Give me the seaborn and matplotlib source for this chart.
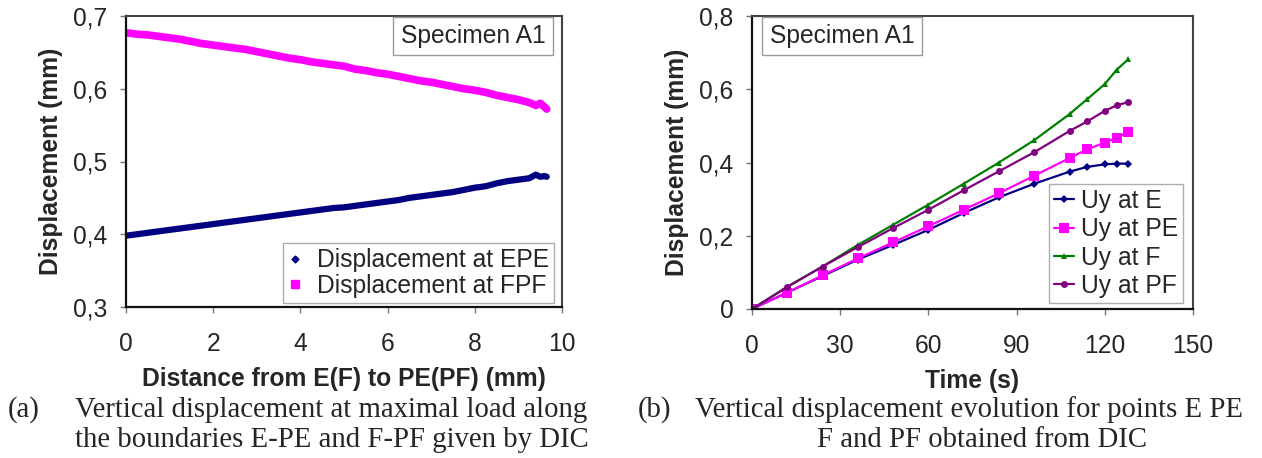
import matplotlib
matplotlib.use("Agg")
import matplotlib.pyplot as plt
import seaborn as sns
import pandas as pd
from matplotlib.lines import Line2D
from matplotlib.ticker import FuncFormatter

# ---------------- data: panel (a) ----------------
distance_mm = [0.0, 0.25, 0.5, 0.75, 1.0, 1.25, 1.5, 1.75, 2.0, 2.25, 2.5, 2.75,
               3.0, 3.25, 3.5, 3.75, 4.0, 4.25, 4.5, 4.75, 5.0, 5.25, 5.5, 5.75,
               6.0, 6.25, 6.5, 6.75, 7.0, 7.25, 7.5, 7.75, 8.0, 8.25, 8.5, 8.75,
               9.0, 9.25, 9.4, 9.5, 9.6, 9.65]
disp_EPE = [0.398, 0.400, 0.402, 0.404, 0.406, 0.408, 0.410, 0.412, 0.414, 0.416,
            0.418, 0.420, 0.422, 0.424, 0.426, 0.428, 0.430, 0.432, 0.434, 0.436,
            0.437, 0.439, 0.441, 0.443, 0.445, 0.447, 0.450, 0.452, 0.454, 0.456,
            0.458, 0.461, 0.464, 0.466, 0.470, 0.473, 0.475, 0.477, 0.482, 0.479,
            0.480, 0.479]
disp_FPF = [0.677, 0.675, 0.674, 0.672, 0.670, 0.668, 0.665, 0.662, 0.660, 0.658,
            0.656, 0.654, 0.651, 0.648, 0.645, 0.642, 0.640, 0.637, 0.635, 0.633,
            0.631, 0.627, 0.625, 0.622, 0.620, 0.617, 0.614, 0.611, 0.609, 0.606,
            0.603, 0.600, 0.598, 0.595, 0.591, 0.588, 0.585, 0.581, 0.577, 0.580,
            0.575, 0.572]

# ---------------- data: panel (b) ----------------
time_s = [0, 12, 24, 36, 48, 60, 72, 84, 96, 108, 114, 120, 124, 128]
uy_E = [0.0, 0.045, 0.090, 0.135, 0.175, 0.216, 0.262, 0.305, 0.342, 0.375,
        0.388, 0.395, 0.397, 0.397]
uy_PE = [0.0, 0.045, 0.092, 0.138, 0.182, 0.226, 0.271, 0.316, 0.364, 0.412,
         0.436, 0.454, 0.468, 0.483]
uy_F = [0.0, 0.061, 0.116, 0.175, 0.230, 0.285, 0.342, 0.400, 0.461, 0.532,
        0.573, 0.614, 0.653, 0.682]
uy_PF = [0.0, 0.060, 0.116, 0.169, 0.221, 0.271, 0.324, 0.376, 0.428, 0.486,
         0.512, 0.541, 0.556, 0.565]

left_xticks = [0, 2, 4, 6, 8, 10]
left_yticks = [0.3, 0.4, 0.5, 0.6, 0.7]
right_xticks = [0, 30, 60, 90, 120, 150]
right_yticks = [0.0, 0.2, 0.4, 0.6, 0.8]

caption_a = ["(a)", "Vertical displacement at maximal load along",
             "the boundaries E-PE and F-PF given by DIC"]
caption_b = ["(b)", "Vertical displacement evolution for points E PE",
             "F and PF obtained from DIC"]

# ---------------- style ----------------
sns.set_style("white")
plt.rcParams["font.family"] = ["Liberation Sans", "DejaVu Sans"]
FS = 17.7

NAVY = "#000080"
MAGENTA = "#FF00FF"
GREEN = "#008000"
PURPLE = "#800080"

fig = plt.figure(figsize=(12.62, 4.58), dpi=100)
axL = fig.add_axes([126 / 1262, 1 - 307 / 458, 436 / 1262, 291 / 458])
axR = fig.add_axes([752 / 1262, 1 - 309 / 458, 441 / 1262, 293 / 458])

comma = FuncFormatter(lambda v, p: ("0" if abs(v) < 1e-9 else f"{v:.1f}".replace(".", ",")))

# ----- panel (a) -----
dfa = pd.DataFrame({"x": distance_mm, "EPE": disp_EPE, "FPF": disp_FPF})
sns.lineplot(data=dfa, x="x", y="FPF", ax=axL, color=MAGENTA, lw=5.5,
             solid_capstyle="round", solid_joinstyle="round")
sns.lineplot(data=dfa, x="x", y="EPE", ax=axL, color=NAVY, lw=4.5,
             solid_capstyle="round", solid_joinstyle="round")
axL.set_xlim(0, 10)
axL.set_ylim(0.3, 0.7)
axL.set_xticks(left_xticks)
axL.set_yticks(left_yticks)
axL.yaxis.set_major_formatter(comma)

handlesL = [Line2D([], [], ls="none", marker="D", ms=3.5, color=NAVY),
            Line2D([], [], ls="none", marker="s", ms=6, color=MAGENTA)]
legL = axL.legend(handlesL, ["Displacement at EPE", "Displacement at FPF"],
                  loc="lower right", bbox_to_anchor=(554 / 1262, 1 - 303 / 458),
                  bbox_transform=fig.transFigure, fontsize=FS, frameon=True,
                  fancybox=False, edgecolor="#999999", handlelength=0.6,
                  handletextpad=0.6, borderpad=0.2, labelspacing=0.08,
                  borderaxespad=0)
legL.get_frame().set_linewidth(1.0)

axL.text(473 / 1262, 1 - 36 / 458, "Specimen A1", transform=fig.transFigure,
         fontsize=FS, ha="center", va="center",
         bbox=dict(boxstyle="square,pad=0.3", fc="white", ec="#999999", lw=1.0))

# ----- panel (b) -----
series = [("Uy at E", uy_E, NAVY, "D", 4),
          ("Uy at PE", uy_PE, MAGENTA, "s", 7),
          ("Uy at F", uy_F, GREEN, "^", 5),
          ("Uy at PF", uy_PF, PURPLE, "o", 5)]
for name, vals, col, mk, ms in series:
    dfb = pd.DataFrame({"t": time_s, "u": vals})
    sns.lineplot(data=dfb, x="t", y="u", ax=axR, color=col, lw=1.6,
                 marker=mk, markersize=ms, markeredgewidth=0, label=name)
axR.set_xlim(0, 150)
axR.set_ylim(0, 0.8)
axR.set_xticks(right_xticks)
axR.set_yticks(right_yticks)
axR.yaxis.set_major_formatter(comma)

legR = axR.legend(loc="lower right", bbox_to_anchor=(1183 / 1262, 1 - 303 / 458),
                  bbox_transform=fig.transFigure, fontsize=FS, frameon=True,
                  fancybox=False, edgecolor="#999999", handlelength=0.8,
                  handletextpad=0.3, borderpad=0.2, labelspacing=0.18,
                  borderaxespad=0)
legR.get_frame().set_linewidth(1.0)

axR.text(842 / 1262, 1 - 36 / 458, "Specimen A1", transform=fig.transFigure,
         fontsize=FS, ha="center", va="center",
         bbox=dict(boxstyle="square,pad=0.3", fc="white", ec="#999999", lw=1.0))

# ----- common axis styling -----
for ax in (axL, axR):
    for side in ("top", "right"):
        ax.spines[side].set_color("#444444")
        ax.spines[side].set_linewidth(1.5)
    for side in ("left", "bottom"):
        ax.spines[side].set_color("#111111")
        ax.spines[side].set_linewidth(1.6)
    ax.tick_params(axis="both", direction="out", length=4, width=1,
                   color="#777777", labelsize=FS, bottom=True, left=True)
    ax.tick_params(axis="y", pad=9.5)
    ax.tick_params(axis="x", pad=14)

axL.set_xlabel("Distance from E(F) to PE(PF) (mm)", fontsize=FS, fontweight="bold",
               labelpad=8)
axL.set_ylabel("Displacement (mm)", fontsize=FS, fontweight="bold", labelpad=7)
axR.set_xlabel("Time (s)", fontsize=FS, fontweight="bold", labelpad=8)
axR.set_ylabel("Displacement (mm)", fontsize=FS, fontweight="bold", labelpad=7)

# ----- captions -----
serif = ["Liberation Serif", "DejaVu Serif"]
CFS = 20.7
fig.text(8 / 1262, 1 - 410 / 458, caption_a[0], family=serif, fontsize=CFS,
         ha="left", va="center")
fig.text(75 / 1262, 1 - 410 / 458, caption_a[1], family=serif, fontsize=CFS,
         ha="left", va="center")
fig.text(75 / 1262, 1 - 440 / 458, caption_a[2], family=serif, fontsize=CFS,
         ha="left", va="center")
fig.text(638 / 1262, 1 - 410 / 458, caption_b[0], family=serif, fontsize=CFS,
         ha="left", va="center")
fig.text(695 / 1262, 1 - 410 / 458, caption_b[1], family=serif, fontsize=CFS,
         ha="left", va="center")
fig.text(982 / 1262, 1 - 440 / 458, caption_b[2], family=serif, fontsize=CFS,
         ha="center", va="center")

fig.savefig("out.png", dpi=100)
